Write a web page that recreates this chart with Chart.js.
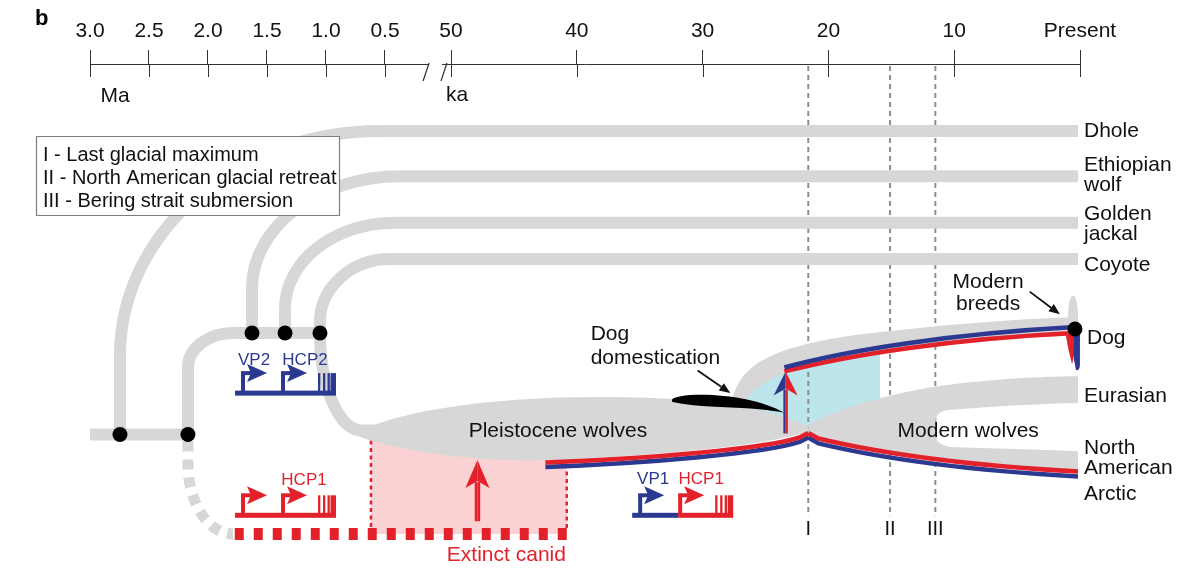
<!DOCTYPE html>
<html>
<head>
<meta charset="utf-8">
<script src="https://cdn.jsdelivr.net/npm/chart.js@4.4.0/dist/chart.umd.min.js"></script>
<style>
  html, body { margin: 0; padding: 0; background: #fff; }
  canvas { display: block; }
</style>
</head>
<body>
<canvas id="c" width="1188" height="577"></canvas>
<script>
// ---- time axis: Ma on the left of the break, ka on the right ----
const tickLabels  = ['3.0', '2.5', '2.0', '1.5', '1.0', '0.5', '50', '40', '30', '20', '10', 'Present'];
const tickTimesKa = [3000, 2500, 2000, 1500, 1000, 500, 50, 40, 30, 20, 10, 0];

// ---- lineages and split times (ka) ----
const outgroups        = ['Dhole', 'Ethiopian wolf', 'Golden jackal', 'Coyote'];
const outgroupSplitKa  = [2746, 1627, 1347, 1051];
const ghostSplitKa     = 2170;          // split of the extinct canid lineage
const wolfGroups       = ['Dog', 'Eurasian', 'North American', 'Arctic'];

// ---- climate events ----
const eventMarks = ['I', 'II', 'III'];
const eventNames = ['Last glacial maximum', 'North American glacial retreat', 'Bering strait submersion'];
const eventKa    = [21.6, 15.1, 11.5];

// ---- admixture / domestication times (ka) ----
const ghostAdmixtureKa = [619, 40.8];   // window of extinct canid gene flow
const ghostArrowKa     = 47.9;
const domesticationKa  = 23.4;
const dogSampleKa      = 0.4;

// piecewise time -> axis value (the axis is broken between 0.5 Ma and 50 ka)
const GAP_UNITS = 5.25, MA_UNITS = 9.38;
function axisVal(ka) {
  if (ka <= 50) return -ka;
  if (ka < 500) return -(50 + (ka - 50) / 450 * GAP_UNITS);
  return -(50 + GAP_UNITS + (ka - 500) / 1000 * MA_UNITS);
}

const FONT = '"Liberation Sans", Arial, Helvetica, sans-serif';
const GRAY = '#d7d7d7';
const BLUE = '#2b3990';
const RED  = '#e3212b';
const LANE_W = 12;

// layout rows (vertical positions are schematic)
const ROW = { dhole: 132, ethiopian: 178, golden: 225, coyote: 262, mid: 337, root: 440, dog: 333, ghost: 541 };

// ---- path shapes, points given as [time ka, row] ----
const lanePaths = [
  [['M', outgroupSplitKa[0], ROW.root], ['L', outgroupSplitKa[0], 360], ['B', 542, ROW.dhole], ['L', 0.16, ROW.dhole]],
  [['M', outgroupSplitKa[1], ROW.mid], ['L', outgroupSplitKa[1], 292], ['B', 398, ROW.ethiopian], ['L', 0.16, ROW.ethiopian]],
  [['M', outgroupSplitKa[2], ROW.mid], ['L', outgroupSplitKa[2], 312], ['B', 432, ROW.golden], ['L', 0.16, ROW.golden]],
  [['M', outgroupSplitKa[3], ROW.mid], ['L', outgroupSplitKa[3], 326], ['B', 466, ROW.coyote], ['L', 0.16, ROW.coyote]],
  [['M', ghostSplitKa, ROW.root], ['L', ghostSplitKa, 372], ['B', 1788, ROW.mid], ['L', outgroupSplitKa[3], ROW.mid]],
  [['M', 3000, ROW.root], ['L', ghostSplitKa, ROW.root]],
  [['M', outgroupSplitKa[3], ROW.mid], ['B', 695, 436], ['L', 560, 436]]
];
const ghostGrayPath = [['M', ghostSplitKa, 447], ['L', ghostSplitKa, 470], ['B', 1788, ROW.ghost]];
const ghostRedPath  = [['M', ghostAdmixtureKa[1], ROW.ghost], ['L', 1788, ROW.ghost]];

const pleistoceneBlob = [['M', 745, 439], ['C', 398, 414, 46.1, 402, 38.2, 402], ['C', 30.2, 402, 24.6, 412, 21.6, 432],
  ['L', 21.6, 437], ['C', 25.0, 452, 34.2, 462, 42.5, 466], ['C', 47.7, 468, 398, 458, 745, 441], ['Z']];
const modernBlob = [['M', 21.6, 430], ['C', 19.1, 412, 14.3, 395, 9.5, 388], ['C', 5.6, 383, 2.4, 381, 0.16, 381],
  ['L', 0.16, 408], ['C', 4.0, 409, 8.35, 413, 10.3, 415], ['Q', 11.5, 416, 11.5, 428], ['L', 11.5, 440],
  ['Q', 11.5, 452, 9.9, 453], ['C', 6.4, 454, 2.4, 456, 0.16, 457], ['L', 0.16, 476],
  ['C', 9.5, 469, 15.9, 457, 20.8, 442], ['L', 21.6, 437], ['Z']];
const dogBand = [['M', 27.6, 404], ['C', 27.0, 368, 24.3, 348, 15.9, 336], ['C', 9.5, 327, 4.0, 322, 0.16, 321],
  ['L', 0.16, 339], ['C', 10.3, 345, 18.3, 360, 23.5, 378], ['Q', 25.4, 386, 26.5, 404], ['Z']];
const dogStub = [['M', 0.95, 323], ['Q', 0.95, 301, 0.56, 299], ['Q', 0.16, 300, 0.16, 323], ['Z']];
const earlyDogZone = [['M', 23.5, 376], ['L', 15.9, 357], ['L', 15.9, 412], ['L', 21.6, 440], ['L', 26.4, 415],
  ['L', 26.8, 400], ['L', 25.4, 385], ['Z']];
const domesticationLeaf = [['M', 23.5, 418], ['C', 25.4, 404, 28.6, 398, 31.0, 400], ['Q', 32.7, 402, 32.4, 407],
  ['Q', 31.0, 411, 28.6, 412], ['C', 26.2, 413, 24.5, 415, 23.5, 418], ['Z']];
const hapBlueL = [['M', 42.5, 473], ['C', 34.2, 469, 25.0, 459, 22.3, 447.5], ['L', 21.6, 443]];
const hapRedL  = [['M', 42.5, 468.5], ['C', 34.2, 464.5, 25.0, 454.5, 22.3, 443], ['L', 21.6, 438.5]];
const hapBlueR = [['M', 21.6, 443], ['L', 20.8, 449], ['C', 15.9, 464, 9.5, 476, 0.16, 482.5]];
const hapRedR  = [['M', 21.6, 438.5], ['L', 20.8, 444], ['C', 15.9, 459, 9.5, 471, 0.16, 477.5]];
const hapBlueDog = [['M', 23.5, 372], ['C', 18.3, 354, 10.3, 338, dogSampleKa, 331]];
const hapRedDog  = [['M', 23.5, 376], ['C', 18.3, 359, 10.3, 343, dogSampleKa, 337]];

// split nodes
const nodes = [
  { x: axisVal(outgroupSplitKa[0]), y: ROW.root },
  { x: axisVal(ghostSplitKa), y: ROW.root },
  { x: axisVal(outgroupSplitKa[1]), y: ROW.mid },
  { x: axisVal(outgroupSplitKa[2]), y: ROW.mid },
  { x: axisVal(outgroupSplitKa[3]), y: ROW.mid },
  { x: axisVal(dogSampleKa), y: ROW.dog }
];

function mapper(chart) {
  const xs = chart.scales.x, ys = chart.scales.y;
  return (ka, y) => [xs.getPixelForValue(axisVal(ka)), ys.getPixelForValue(y)];
}

function trace(ctx, P, cmds) {
  let cur = null;
  ctx.beginPath();
  for (const c of cmds) {
    switch (c[0]) {
      case 'M': cur = P(c[1], c[2]); ctx.moveTo(cur[0], cur[1]); break;
      case 'L': cur = P(c[1], c[2]); ctx.lineTo(cur[0], cur[1]); break;
      case 'Q': { const a = P(c[1], c[2]); cur = P(c[3], c[4]); ctx.quadraticCurveTo(a[0], a[1], cur[0], cur[1]); break; }
      case 'C': { const a = P(c[1], c[2]), b = P(c[3], c[4]); cur = P(c[5], c[6]);
        ctx.bezierCurveTo(a[0], a[1], b[0], b[1], cur[0], cur[1]); break; }
      case 'B': { // bend from a vertical start tangent into a horizontal end tangent
        const a = cur, b = P(c[1], c[2]);
        ctx.bezierCurveTo(a[0], a[1] + (b[1] - a[1]) * 0.55, b[0] - (b[0] - a[0]) * 0.55, b[1], b[0], b[1]);
        cur = b; break; }
      case 'Z': ctx.closePath(); break;
    }
  }
}

function fillShape(ctx, P, cmds, color) { trace(ctx, P, cmds); ctx.fillStyle = color; ctx.fill(); }
function strokeShape(ctx, P, cmds, color, w, dash) {
  trace(ctx, P, cmds);
  ctx.strokeStyle = color; ctx.lineWidth = w; ctx.lineCap = 'butt'; ctx.lineJoin = 'round';
  ctx.setLineDash(dash || []); ctx.stroke(); ctx.setLineDash([]);
}

function text(ctx, s, x, y, opt) {
  opt = opt || {};
  ctx.font = (opt.weight || '') + ' ' + (opt.size || 21) + 'px ' + FONT;
  ctx.fillStyle = opt.color || '#111';
  ctx.textAlign = opt.align || 'left';
  ctx.textBaseline = 'middle';
  ctx.fillText(s, x, y);
}

// upward arrow with a notched head, optionally split in two colours
function upArrow(ctx, x, yTip, yEnd, halfW, headLen, colL, colR, shaftW) {
  ctx.fillStyle = colL;
  ctx.fillRect(x - shaftW / 2, yTip + headLen - 6, shaftW / 2, yEnd - yTip - headLen + 6);
  ctx.beginPath(); ctx.moveTo(x, yTip); ctx.lineTo(x - halfW, yTip + headLen); ctx.lineTo(x, yTip + headLen - 7); ctx.closePath(); ctx.fill();
  ctx.fillStyle = colR;
  ctx.fillRect(x, yTip + headLen - 6, shaftW / 2, yEnd - yTip - headLen + 6);
  ctx.beginPath(); ctx.moveTo(x, yTip); ctx.lineTo(x + halfW, yTip + headLen); ctx.lineTo(x, yTip + headLen - 7); ctx.closePath(); ctx.fill();
}

function pointer(ctx, a, b) {
  const ang = Math.atan2(b[1] - a[1], b[0] - a[0]);
  const hl = 11, hw = 4.5;
  const bx = b[0] - hl * Math.cos(ang), by = b[1] - hl * Math.sin(ang);
  ctx.strokeStyle = '#111'; ctx.lineWidth = 1.8;
  ctx.beginPath(); ctx.moveTo(a[0], a[1]); ctx.lineTo(bx, by); ctx.stroke();
  ctx.fillStyle = '#111';
  ctx.beginPath(); ctx.moveTo(b[0], b[1]);
  ctx.lineTo(bx + hw * Math.sin(ang), by - hw * Math.cos(ang));
  ctx.lineTo(bx - hw * Math.sin(ang), by + hw * Math.cos(ang));
  ctx.closePath(); ctx.fill();
}

// gene model: baseline, two bent-arrow promoters, exon bars
function promoter(ctx, x, y, col) {
  ctx.fillStyle = col;
  ctx.fillRect(x, y - 20, 4, 20);
  ctx.fillRect(x, y - 22, 10, 4);
  ctx.beginPath();
  ctx.moveTo(x + 6, y - 29); ctx.lineTo(x + 26, y - 20); ctx.lineTo(x + 6, y - 11); ctx.lineTo(x + 10, y - 20);
  ctx.closePath(); ctx.fill();
}
function geneModel(ctx, x, y, cols) {
  // cols: [first promoter + left baseline, second promoter + right baseline + exons]
  ctx.fillStyle = cols[0]; ctx.fillRect(x, y - 2.5, 46, 5);
  ctx.fillStyle = cols[1]; ctx.fillRect(x + 46, y - 2.5, 55, 5);
  promoter(ctx, x + 6, y, cols[0]);
  promoter(ctx, x + 46, y, cols[1]);
  ctx.fillStyle = cols[1];
  [83, 88, 92.5].forEach(d => ctx.fillRect(x + d, y - 20, 2.3, 20));
  ctx.fillRect(x + 95.5, y - 20, 5.5, 20);
}

const diagram = {
  id: 'diagram',
  beforeDatasetsDraw(chart) {
    const ctx = chart.ctx, P = mapper(chart), area = chart.chartArea;
    ctx.save();

    // extinct canid gene-flow window
    const pa = P(ghostAdmixtureKa[0], 432), pb = P(ghostAdmixtureKa[1], ROW.ghost);
    ctx.fillStyle = '#fbd2d4';
    ctx.fillRect(pa[0], pa[1], pb[0] - pa[0], pb[1] - pa[1]);

    // early dog population
    fillShape(ctx, P, earlyDogZone, '#bde5ec');

    // climate event lines
    eventKa.forEach(t => {
      const top = P(t, 66), bot = P(t, 523);
      ctx.strokeStyle = '#8e8e8e'; ctx.lineWidth = 2; ctx.setLineDash([5, 4]);
      ctx.beginPath(); ctx.moveTo(top[0], top[1]); ctx.lineTo(bot[0], bot[1]); ctx.stroke();
      ctx.setLineDash([]);
    });

    // lineages
    lanePaths.forEach(p => strokeShape(ctx, P, p, GRAY, LANE_W));
    strokeShape(ctx, P, ghostGrayPath, GRAY, 11, [10, 8]);

    // event key
    const lx = area.left - 54, ly = 136.5;
    ctx.fillStyle = '#fff'; ctx.fillRect(lx, ly, 304, 79);
    ctx.strokeStyle = '#7d7d7d'; ctx.lineWidth = 1.2; ctx.strokeRect(lx + 0.5, ly, 303, 79);
    eventMarks.forEach((m, i) => text(ctx, m + ' - ' + eventNames[i], lx + 7, ly + 19 + i * 23, { size: 20 }));

    // extinct canid lineage and window borders
    strokeShape(ctx, P, ghostRedPath, RED, 12, [9, 10]);
    ctx.strokeStyle = RED; ctx.lineWidth = 2.5; ctx.setLineDash([4, 3.5]);
    [[ghostAdmixtureKa[0], 446], [ghostAdmixtureKa[1], 470]].forEach(([t, y0]) => {
      const a = P(t, y0), b = P(t, 536);
      ctx.beginPath(); ctx.moveTo(a[0], a[1]); ctx.lineTo(b[0], b[1]); ctx.stroke();
    });
    ctx.setLineDash([]);

    // wolf and dog populations
    fillShape(ctx, P, dogBand, GRAY);
    fillShape(ctx, P, dogStub, GRAY);
    fillShape(ctx, P, pleistoceneBlob, GRAY);
    fillShape(ctx, P, modernBlob, GRAY);
    fillShape(ctx, P, domesticationLeaf, '#000');

    // haplotype tracks
    strokeShape(ctx, P, hapBlueL, BLUE, 4.5);
    strokeShape(ctx, P, hapBlueR, BLUE, 4.5);
    strokeShape(ctx, P, hapRedL, RED, 4.5);
    strokeShape(ctx, P, hapRedR, RED, 4.5);
    strokeShape(ctx, P, hapRedDog, RED, 4.5);
    strokeShape(ctx, P, hapBlueDog, BLUE, 4.5);

    // modern breeds tail at the dog tip
    const d = P(dogSampleKa, ROW.dog);
    ctx.fillStyle = BLUE;
    ctx.beginPath();
    ctx.moveTo(d[0] - 4, d[1] - 2); ctx.lineTo(d[0] + 5, d[1] - 2); ctx.lineTo(d[0] + 5, d[1] + 35);
    ctx.quadraticCurveTo(d[0] + 5, d[1] + 42, d[0] + 1, d[1] + 41);
    ctx.quadraticCurveTo(d[0] - 2, d[1] + 27, d[0] - 4, d[1] + 12); ctx.closePath(); ctx.fill();
    ctx.fillStyle = RED;
    ctx.beginPath();
    ctx.moveTo(d[0] - 9, d[1] + 3); ctx.lineTo(d[0] - 1, d[1] + 3); ctx.lineTo(d[0] - 1, d[1] + 20);
    ctx.quadraticCurveTo(d[0] - 2, d[1] + 34, d[0] - 3, d[1] + 35);
    ctx.quadraticCurveTo(d[0] - 7, d[1] + 20, d[0] - 9, d[1] + 7); ctx.closePath(); ctx.fill();

    // introgression arrows
    const da = P(domesticationKa, 376), db = P(domesticationKa, 439);
    upArrow(ctx, da[0], da[1], db[1], 12, 24, BLUE, RED, 4.5);
    const ga = P(ghostArrowKa, 466), gb = P(ghostArrowKa, 528);
    upArrow(ctx, ga[0], ga[1], gb[1], 12, 28, RED, RED, 5.5);

    ctx.restore();
  },
  afterDatasetsDraw(chart) {
    const ctx = chart.ctx, P = mapper(chart);
    ctx.save();

    // gene models
    const g1 = P(1771, 398), g2 = P(1771, 522), g3 = P(35.6, 522);
    geneModel(ctx, g1[0], g1[1], [BLUE, BLUE]);
    geneModel(ctx, g2[0], g2[1], [RED, RED]);
    geneModel(ctx, g3[0], g3[1], [BLUE, RED]);
    const gs = { size: 17, align: 'center' };
    text(ctx, 'VP2', g1[0] + 19, g1[1] - 33, Object.assign({ color: BLUE }, gs));
    text(ctx, 'HCP2', g1[0] + 70, g1[1] - 33, Object.assign({ color: BLUE }, gs));
    text(ctx, 'HCP1', g2[0] + 69, g2[1] - 35, Object.assign({ color: RED }, gs));
    text(ctx, 'VP1', g3[0] + 21, g3[1] - 36, Object.assign({ color: BLUE }, gs));
    text(ctx, 'HCP1', g3[0] + 69, g3[1] - 36, Object.assign({ color: RED }, gs));

    // lineage labels
    const lx = P(0, 0)[0] + 4;
    const labelRows = [[131], [165, 185], [214, 234], [265]];
    outgroups.forEach((name, i) => {
      name.split(' ').forEach((p, j) => text(ctx, p, lx, labelRows[i][j]));
    });
    const wolfRows = [[338], [396], [448, 468], [494]];
    wolfGroups.forEach((name, i) => {
      name.split(' ').forEach((p, j) => text(ctx, p, lx + (i === 0 ? 3 : 0), wolfRows[i][j]));
    });

    // annotations
    let p = P(38.9, 338); text(ctx, 'Dog', p[0], p[1]);
    p = P(38.9, 363); text(ctx, 'domestication', p[0], p[1]);
    pointer(ctx, P(30.4, 375), P(27.8, 398));
    p = P(41.5, 437); text(ctx, 'Pleistocene wolves', p[0], p[1], { align: 'center' });
    p = P(14.5, 437); text(ctx, 'Modern wolves', p[0], p[1]);
    p = P(7.3, 285); text(ctx, 'Modern', p[0], p[1], { align: 'center' });
    p = P(7.3, 308); text(ctx, 'breeds', p[0], p[1], { align: 'center' });
    pointer(ctx, P(4.0, 295), P(1.6, 318));
    p = P(45.6, 562); text(ctx, 'Extinct canid', p[0], p[1], { align: 'center', color: RED });
    eventKa.forEach((t, i) => { const q = P(t, 536); text(ctx, eventMarks[i], q[0], q[1], { align: 'center', size: 20 }); });

    ctx.restore();
  },
  afterDraw(chart) {
    const ctx = chart.ctx, xs = chart.scales.x, top = chart.chartArea.top;
    ctx.save();
    // lower half of each tick mark
    ctx.strokeStyle = '#333'; ctx.lineWidth = 1;
    xs.ticks.forEach(t => {
      const x = Math.round(xs.getPixelForValue(t.value)) + 0.5;
      ctx.beginPath(); ctx.moveTo(x, top); ctx.lineTo(x, top + 13); ctx.stroke();
    });
    // axis break
    const b1 = xs.getPixelForValue(axisVal(220)), b2 = xs.getPixelForValue(axisVal(98));
    ctx.fillStyle = '#fff'; ctx.fillRect(b1 + 2, top - 2, b2 - b1 - 4, 4);
    ctx.strokeStyle = '#333'; ctx.lineWidth = 1.2;
    [b1, b2].forEach(x => { ctx.beginPath(); ctx.moveTo(x - 3, top + 17); ctx.lineTo(x + 3, top - 1); ctx.stroke(); });
    // unit labels
    text(ctx, 'Ma', xs.getPixelForValue(axisVal(2788)), 96, { align: 'center' });
    text(ctx, 'ka', xs.getPixelForValue(axisVal(50)) + 6, 95, { align: 'center' });
    // panel letter
    text(ctx, 'b', 35, 19, { weight: 'bold', size: 22, color: '#000' });
    ctx.restore();
  }
};

new Chart(document.getElementById('c'), {
  type: 'scatter',
  data: {
    datasets: [{
      data: nodes,
      pointRadius: 7.5,
      pointBackgroundColor: '#000',
      pointBorderWidth: 0,
      clip: false
    }]
  },
  options: {
    responsive: false,
    animation: false,
    devicePixelRatio: 1,
    events: [],
    layout: { padding: { left: 90, right: 108, top: 0, bottom: 0 } },
    plugins: { legend: { display: false }, tooltip: { enabled: false } },
    scales: {
      x: {
        type: 'linear',
        position: 'top',
        min: axisVal(3000),
        max: 0,
        afterFit(s) { s.height = 64; },
        afterBuildTicks(s) { s.ticks = tickTimesKa.map(t => ({ value: axisVal(t) })); },
        ticks: {
          autoSkip: false, maxRotation: 0, padding: 6, color: '#111',
          font: { family: FONT, size: 21 },
          callback: (v, i) => tickLabels[i]
        },
        grid: { drawOnChartArea: false, drawTicks: true, tickLength: 14, color: '#333', lineWidth: 1 },
        border: { display: true, color: '#333', width: 1 }
      },
      y: { type: 'linear', display: false, min: 64, max: 577, reverse: true }
    }
  },
  plugins: [diagram]
});
</script>
</body>
</html>
